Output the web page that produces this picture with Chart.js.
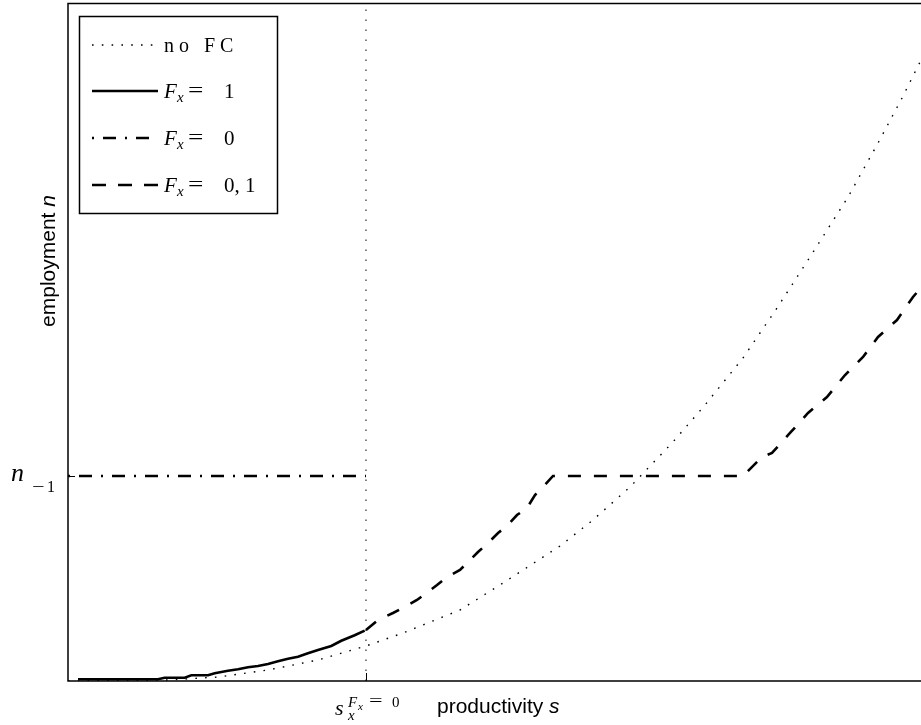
<!DOCTYPE html>
<html>
<head>
<meta charset="utf-8">
<script src="https://cdn.jsdelivr.net/npm/chart.js@4.4.1/dist/chart.umd.min.js"></script>
<style>
  html, body { margin: 0; padding: 0; background: #fff; overflow: hidden; }
  #wrap { position: absolute; left: 0; top: 0; width: 930px; height: 725px; }
</style>
</head>
<body>
<div id="wrap"><canvas id="chart" width="930" height="725"></canvas></div>
<script>
// values, productivity s and employment n on a 0..100 scale
var noFcS = [0, 11.67, 17.5, 23.34, 29.17, 34.77, 39.09, 45.74, 50.76, 57.41, 61.26, 65.58, 70.48, 74.33, 78.76, 82.73, 86.58, 91.02, 94.52, 97.32, 99.42, 100];
var noFcN = [0, 0.15, 0.59, 1.62, 3.1, 5.16, 7.08, 10.47, 14.45, 19.91, 23.75, 28.61, 35.1, 40.71, 47.64, 55.01, 62.54, 71.39, 79.35, 85.99, 91.3, 92.6];

var fx1S = [1.17, 10.5, 11.28, 13.62, 14.39, 16.34, 17.12, 18.67, 19.84, 21.0, 22.17, 23.34, 24.5, 25.67, 26.84, 28.0, 29.17, 30.72, 31.89, 33.45, 34.62];
var fx1N = [0.25, 0.25, 0.49, 0.49, 0.84, 0.84, 1.14, 1.52, 1.73, 2.02, 2.21, 2.51, 2.91, 3.29, 3.58, 4.09, 4.57, 5.16, 5.94, 6.74, 7.42];

var fx0S = [0, 34.77];
var fx0N = [30.24, 30.24];

var fx01S = [34.77, 36.17, 37.92, 39.09, 40.72, 41.66, 43.06, 44.22, 45.74, 46.67, 47.84, 49.01, 50.18, 51.23, 52.39, 53.56, 54.49, 55.43, 56.59, 78.76, 80.98, 82.15, 84.25, 86.35, 88.56, 90.67, 92.77, 94.52, 96.73, 98.6, 100];
var fx01N = [7.52, 9.0, 10.03, 10.77, 11.95, 12.83, 14.16, 15.34, 16.37, 17.55, 19.03, 20.35, 21.83, 22.86, 24.48, 25.52, 27.43, 28.61, 30.24, 30.24, 33.04, 33.63, 36.58, 39.53, 41.89, 45.13, 47.79, 50.74, 53.24, 56.64, 58.7];

// tick positions: s_x^{F_x=0} and n_{-1}
var xTicks = [34.77];
var yTicks = [30.24];

function pts(xs, ys) {
  return xs.map(function(x, i) { return { x: x, y: ys[i] }; });
}

var SERIF = '"Liberation Serif", "DejaVu Serif", serif';
var SANS = '"Liberation Sans", Arial, sans-serif';

var datasets = [
  { label: 'no FC', data: pts(noFcS, noFcN), borderWidth: 1.4, borderDash: [1.6, 8.2] },
  { label: 'F_x = 1', data: pts(fx1S, fx1N), borderWidth: 2.6, borderDash: [] },
  { label: 'F_x = 0', data: pts(fx0S, fx0N), borderWidth: 2.6, borderDash: [2, 9, 13, 9] },
  { label: 'F_x = 0,1', data: pts(fx01S, fx01N), borderWidth: 2.6, borderDash: [13, 13] },
  { label: 'guide', data: pts([xTicks[0], xTicks[0]], [0, 100]), borderWidth: 1, borderDash: [1.5, 8.5] }
].map(function(d) {
  d.borderColor = '#000';
  d.backgroundColor = '#000';
  d.pointRadius = 0;
  d.tension = 0;
  d.fill = false;
  d.borderCapStyle = 'butt';
  return d;
});

function put(ctx, text, x, y, font) {
  ctx.font = font;
  ctx.fillText(text, x, y);
}

// TeX symbols are wider than the Times ones, stretch them a bit
function putWide(ctx, text, x, y, font, sx) {
  ctx.save();
  ctx.translate(x, y);
  ctx.scale(sx, 1);
  ctx.font = font;
  ctx.fillText(text, 0, 0);
  ctx.restore();
}

var decorPlugin = {
  id: 'decor',
  afterDatasetsDraw: function(chart) {
    var ctx = chart.ctx;
    var a = chart.chartArea;
    var xs = chart.scales.x, ys = chart.scales.y;
    ctx.save();
    ctx.strokeStyle = '#000';
    ctx.fillStyle = '#000';
    ctx.setLineDash([]);

    // axes box (right edge falls outside the window)
    ctx.lineWidth = 1.5;
    ctx.beginPath();
    ctx.moveTo(a.right + 10, a.top + 0.5);
    ctx.lineTo(a.left, a.top + 0.5);
    ctx.lineTo(a.left, a.bottom);
    ctx.lineTo(a.right + 10, a.bottom);
    ctx.stroke();

    // inward ticks
    ctx.lineWidth = 1;
    xTicks.forEach(function(v) {
      var px = Math.round(xs.getPixelForValue(v)) + 0.5;
      ctx.beginPath(); ctx.moveTo(px, a.bottom); ctx.lineTo(px, a.bottom - 8); ctx.stroke();
    });
    yTicks.forEach(function(v) {
      var py = Math.round(ys.getPixelForValue(v)) + 0.5;
      ctx.beginPath(); ctx.moveTo(a.left, py); ctx.lineTo(a.left + 7, py); ctx.stroke();
    });

    // tick labels
    ctx.textAlign = 'left';
    ctx.textBaseline = 'alphabetic';
    var ty = ys.getPixelForValue(yTicks[0]);
    put(ctx, 'n', 11, ty + 5, 'italic 26px ' + SERIF);
    putWide(ctx, '\u2212', 32, ty + 16, '17px ' + SERIF, 1.3);
    put(ctx, '1', 47, ty + 16, '16px ' + SERIF);

    var tx = xs.getPixelForValue(xTicks[0]);
    put(ctx, 's', tx - 31, a.bottom + 34, 'italic 22px ' + SERIF);
    put(ctx, 'x', tx - 18, a.bottom + 39, 'italic 15px ' + SERIF);
    put(ctx, 'F', tx - 18, a.bottom + 26, 'italic 15px ' + SERIF);
    put(ctx, 'x', tx - 8, a.bottom + 29, 'italic 11px ' + SERIF);
    putWide(ctx, '=', tx + 3, a.bottom + 25, '16px ' + SERIF, 1.5);
    put(ctx, '0', tx + 26, a.bottom + 26, '15px ' + SERIF);

    // axis titles
    ctx.font = '21px ' + SANS;
    var w1 = ctx.measureText('productivity ').width;
    ctx.fillText('productivity ', 437, 713);
    put(ctx, 's', 437 + w1, 713, 'italic 21px ' + SANS);

    ctx.save();
    ctx.translate(55, 261);
    ctx.rotate(-Math.PI / 2);
    ctx.font = '21px ' + SANS;
    var w2 = ctx.measureText('employment ').width;
    ctx.font = 'italic 21px ' + SANS;
    var w3 = ctx.measureText('n').width;
    var x0 = -(w2 + w3) / 2;
    put(ctx, 'employment ', x0, 0, '21px ' + SANS);
    put(ctx, 'n', x0 + w2, 0, 'italic 21px ' + SANS);
    ctx.restore();

    // legend box
    var bx = 79, by = 16, bw = 198, bh = 197;
    ctx.fillStyle = '#fff';
    ctx.fillRect(bx, by, bw, bh);
    ctx.fillStyle = '#000';
    ctx.lineWidth = 1.5;
    ctx.strokeRect(bx + 0.5, by + 0.5, bw, bh);

    var rows = [45, 91, 138, 185];
    for (var i = 0; i < 4; i++) {
      var ds = chart.data.datasets[i];
      ctx.save();
      ctx.lineWidth = ds.borderWidth;
      ctx.lineCap = 'butt';
      ctx.setLineDash(i === 3 ? [14, 12] : ds.borderDash);
      ctx.beginPath();
      ctx.moveTo(92, rows[i]);
      ctx.lineTo(158, rows[i]);
      ctx.stroke();
      ctx.restore();
    }
    var tb = 7;
    ctx.save();
    ctx.font = '20px ' + SERIF;
    ctx.letterSpacing = '5px';
    ctx.fillText('no FC', 164, rows[0] + tb);
    ctx.restore();
    var vals = ['1', '0', '0, 1'];
    for (var j = 1; j < 4; j++) {
      var yb = rows[j] + tb;
      put(ctx, 'F', 164, yb, 'italic 21px ' + SERIF);
      put(ctx, 'x', 177, yb + 4, 'italic 15px ' + SERIF);
      putWide(ctx, '=', 188, yb - 1, '21px ' + SERIF, 1.3);
      put(ctx, vals[j - 1], 224, yb, '21px ' + SERIF);
    }
    ctx.restore();
  }
};

new Chart(document.getElementById('chart'), {
  type: 'line',
  data: { datasets: datasets },
  options: {
    responsive: false,
    animation: false,
    devicePixelRatio: 1,
    layout: { padding: { left: 68, top: 3, right: 5, bottom: 44 } },
    plugins: { legend: { display: false }, tooltip: { enabled: false } },
    scales: {
      x: { type: 'linear', min: 0, max: 100, display: false },
      y: { type: 'linear', min: 0, max: 100, display: false }
    }
  },
  plugins: [decorPlugin]
});
</script>
</body>
</html>
